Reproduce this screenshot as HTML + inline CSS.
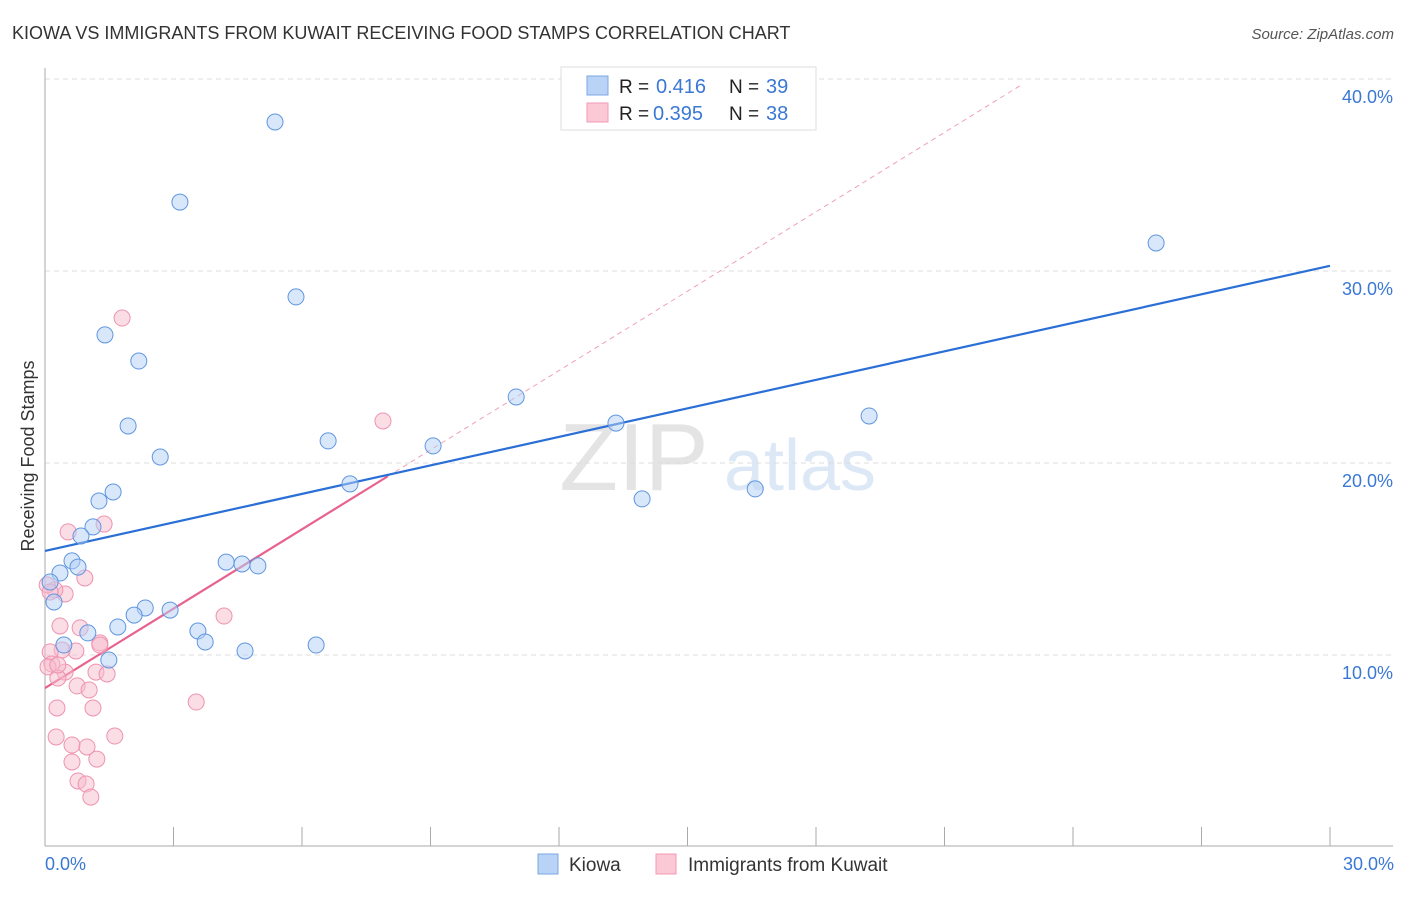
<!DOCTYPE html>
<html><head><meta charset="utf-8"><style>
body{margin:0;background:#fff;font-family:"Liberation Sans",sans-serif}
svg text{font-family:"Liberation Sans",sans-serif}
</style></head><body>
<svg id="c" width="1406" height="892" viewBox="0 0 1406 892">
<text x="12" y="39" font-size="18" fill="#333">KIOWA VS IMMIGRANTS FROM KUWAIT RECEIVING FOOD STAMPS CORRELATION CHART</text>
<text x="1394" y="39" font-size="15" fill="#555" text-anchor="end" font-style="italic">Source: ZipAtlas.com</text>
<text x="634" y="490" font-size="96" fill="#e4e4e4" font-family="Liberation Serif" text-anchor="middle">ZIP</text>
<text x="800" y="490" font-size="72" fill="#dce8f6" text-anchor="middle">atlas</text>
<g id="grid"></g><g id="axes"></g><g id="lines"></g><g id="pts"></g>
<text transform="translate(34,456) rotate(-90)" font-size="18" fill="#333" text-anchor="middle">Receiving Food Stamps</text>
<text x="45" y="870" font-size="18" fill="#3a78d4">0.0%</text>
<text x="1394" y="870" font-size="18" fill="#3a78d4" text-anchor="end">30.0%</text>
<g>
<rect x="561" y="67" width="255" height="63" fill="#fff" stroke="#ddd"/>
<rect x="587" y="76" width="21" height="19" fill="#b9d3f7" stroke="#7aa7e6"/>
<rect x="587" y="103" width="21" height="19" fill="#fbc8d6" stroke="#f09ab5"/>
<text x="619" y="93" font-size="19" fill="#222">R = </text><text x="656" y="93" font-size="20" fill="#3a78d4">0.416</text>
<text x="729" y="93" font-size="19" fill="#222">N = </text><text x="766" y="93" font-size="20" fill="#3a78d4">39</text>
<text x="619" y="120" font-size="19" fill="#222">R = </text><text x="653" y="120" font-size="20" fill="#3a78d4">0.395</text>
<text x="729" y="120" font-size="19" fill="#222">N = </text><text x="766" y="120" font-size="20" fill="#3a78d4">38</text>
</g>
<g>
<rect x="538" y="854" width="20" height="20" fill="#b9d3f7" stroke="#7aa7e6"/>
<text x="569" y="871" font-size="19" fill="#333">Kiowa</text>
<text x="0" y="0" font-size="1" fill="#fff"></text>
<rect x="656" y="854" width="20" height="20" fill="#fbc8d6" stroke="#f09ab5"/>
<text x="688" y="871" font-size="19" fill="#333">Immigrants from Kuwait</text>
</g>
</svg>
<script>
const yTicks=[10,20,30,40];
const yTickLabels=["10.0%","20.0%","30.0%","40.0%"];
const xTicks=[0,3,6,9,12,15,18,21,24,27,30];
const kiowaX=[5.37,3.15,5.86,1.40,2.19,1.94,2.69,6.61,7.12,9.06,11.00,13.33,13.94,16.58,19.24,25.94,1.59,1.26,1.12,0.84,0.63,0.77,0.35,0.12,0.21,4.23,4.60,4.97,2.34,2.08,2.92,1.70,1.00,0.44,3.57,3.74,4.67,6.33,1.49];
const kiowaY=[37.76,33.59,28.65,26.67,25.31,21.93,20.31,21.15,18.91,20.89,23.44,22.08,18.13,18.65,22.45,31.46,18.49,18.02,16.67,16.20,14.90,14.58,14.27,13.80,12.76,14.84,14.74,14.64,12.45,12.08,12.34,11.46,11.15,10.52,11.25,10.68,10.21,10.52,9.74];
const kuwaitX=[1.80,7.89,0.54,1.38,0.93,0.47,0.23,4.18,0.35,0.82,1.28,0.72,0.40,0.12,0.16,0.07,0.47,1.19,1.45,0.30,0.75,1.03,0.28,1.12,3.53,0.26,1.63,0.63,0.98,0.63,1.21,0.77,0.96,1.07,0.05,1.28,0.30,0.12];
const kuwaitY=[27.55,22.19,16.41,16.82,14.01,13.18,13.39,12.03,11.51,11.41,10.63,10.21,10.26,10.16,9.53,9.38,9.11,9.11,9.01,8.80,8.39,8.18,7.24,7.24,7.55,5.73,5.78,5.31,5.21,4.43,4.58,3.44,3.28,2.60,13.65,10.52,9.48,13.28];
const kiowaFit=[15.42,0.495];   // intercept, slope
const kuwaitFit=[8.28,1.378];
const X=v=>45+v*1285/30, Y=v=>847-v*19.2;
const NS="http://www.w3.org/2000/svg";
function mk(t,a,p){const e=document.createElementNS(NS,t);for(const k in a)e.setAttribute(k,a[k]);document.getElementById(p).appendChild(e);return e;}
yTicks.forEach((t,i)=>{
 const g=mk('line',{x1:45,x2:1393,y1:Y(t),y2:Y(t),stroke:'#ddd','stroke-dasharray':'5,4'},'grid');
 
 
 const l=mk('text',{x:1393,y:Y(t)+24,'font-size':18,fill:'#3a78d4','text-anchor':'end'},'axes');
 l.textContent=yTickLabels[i];
 
 
});
const ya=mk('line',{x1:45,x2:45,y1:68,y2:846,stroke:'#aaa'},'axes');


const xa=mk('line',{x1:45,x2:1393,y1:846,y2:846,stroke:'#aaa'},'axes');


xTicks.forEach(t=>{
 const k=mk('line',{x1:X(t),x2:X(t),y1:827,y2:846,stroke:'#aaa'},'axes');
 
 
});
const kd=mk('line',{x1:X(8.0),y1:Y(kuwaitFit[0]+kuwaitFit[1]*8.0),x2:X(22.81),y2:Y(kuwaitFit[0]+kuwaitFit[1]*22.81),stroke:'#f0a0b8','stroke-dasharray':'5,4','stroke-width':1},'lines');


function dots(xs,ys,fill,stroke,name){xs.forEach((x,i)=>{
 const c=mk('circle',{cx:X(x),cy:Y(ys[i]),r:8,fill:fill,stroke:stroke,'stroke-width':1,'fill-opacity':0.5},'pts');
 
 
});}
dots(kuwaitX,kuwaitY,'#f8bccd','#ee93b0','kuwait-point');
dots(kiowaX,kiowaY,'#b3cff5','#5f96e0','kiowa-point');
const kl=mk('line',{x1:X(0),y1:Y(kuwaitFit[0]),x2:X(8.0),y2:Y(kuwaitFit[0]+kuwaitFit[1]*8.0),stroke:'#e8628e','stroke-width':2.2},'lines');


const bl=mk('line',{x1:X(0),y1:Y(kiowaFit[0]),x2:X(30),y2:Y(kiowaFit[0]+kiowaFit[1]*30),stroke:'#2a6fd6','stroke-width':2.2},'lines');


</script>
</body></html>
